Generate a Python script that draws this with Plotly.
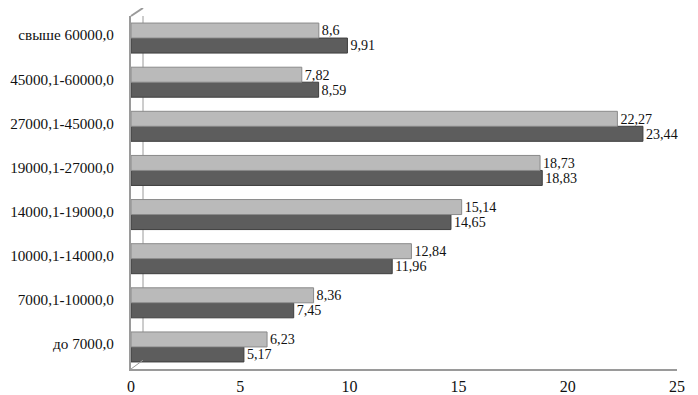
import plotly.graph_objects as go

categories = ["до 7000,0", "7000,1-10000,0", "10000,1-14000,0", "14000,1-19000,0",
              "19000,1-27000,0", "27000,1-45000,0", "45000,1-60000,0", "свыше 60000,0"]
light_vals = [6.23, 8.36, 12.84, 15.14, 18.73, 22.27, 7.82, 8.6]
dark_vals = [5.17, 7.45, 11.96, 14.65, 18.83, 23.44, 8.59, 9.91]
x_ticks = [0, 5, 10, 15, 20, 25]

def fmt(v):
    return str(v).replace(".", ",")

font = dict(family="Liberation Serif", size=16, color="#111")
yfont = dict(family="Liberation Serif", size=15.2, color="#111")

fig = go.Figure()
fig.add_trace(go.Bar(
    y=categories, x=dark_vals, orientation="h", name="dark",
    marker=dict(color="#5d5d5d", line=dict(color="#3e3e3e", width=1)),
    text=[fmt(v) for v in dark_vals], textposition="outside",
    textfont=font, cliponaxis=False,
))
fig.add_trace(go.Bar(
    y=categories, x=light_vals, orientation="h", name="light",
    marker=dict(color="#bababa", line=dict(color="#8a8a8a", width=1)),
    text=[fmt(v) for v in light_vals], textposition="outside",
    textfont=font, cliponaxis=False,
))

fig.update_layout(
    width=698, height=395,
    margin=dict(l=123, r=29, t=8, b=34, autoexpand=False),
    barmode="group", bargap=0.32, bargroupgap=0,
    showlegend=False,
    plot_bgcolor="white", paper_bgcolor="white",
    font=font,
    uniformtext=dict(mode=False),
)
fig.update_xaxes(range=[0, 25], tickvals=x_ticks, ticktext=[str(t) for t in x_ticks],
                 showgrid=False, zeroline=False, showline=True, linecolor="#9a9a9a",
                 linewidth=2, ticks="", tickfont=font, ticklabelstandoff=2,
                 automargin=False)
fig.update_yaxes(categoryorder="array", categoryarray=categories,
                 showgrid=False, zeroline=False, showline=True, linecolor="#9a9a9a",
                 linewidth=2, ticks="", tickfont=yfont, ticklabelstandoff=12,
                 ticklabelshift=-3, automargin=False)

# 3D wall outline (decorative)
wall = dict(color="#9a9a9a", width=2)
fig.add_shape(type="line", xref="paper", yref="paper", x0=0, y0=1.0, x1=0.022, y1=1.0227, line=wall)
fig.add_shape(type="line", xref="paper", yref="paper", x0=0.022, y0=1.0227, x1=0.022, y1=1.037, line=wall)
fig.add_shape(type="line", xref="paper", yref="paper", x0=0, y0=0, x1=0.022, y1=0.025,
              line=dict(color="#9a9a9a", width=1))
fig.add_shape(type="line", xref="paper", yref="paper", x0=0.022, y0=0.025, x1=0.022, y1=1.0,
              line=dict(color="#9a9a9a", width=1), layer="below")

fig.write_html("out.html")
